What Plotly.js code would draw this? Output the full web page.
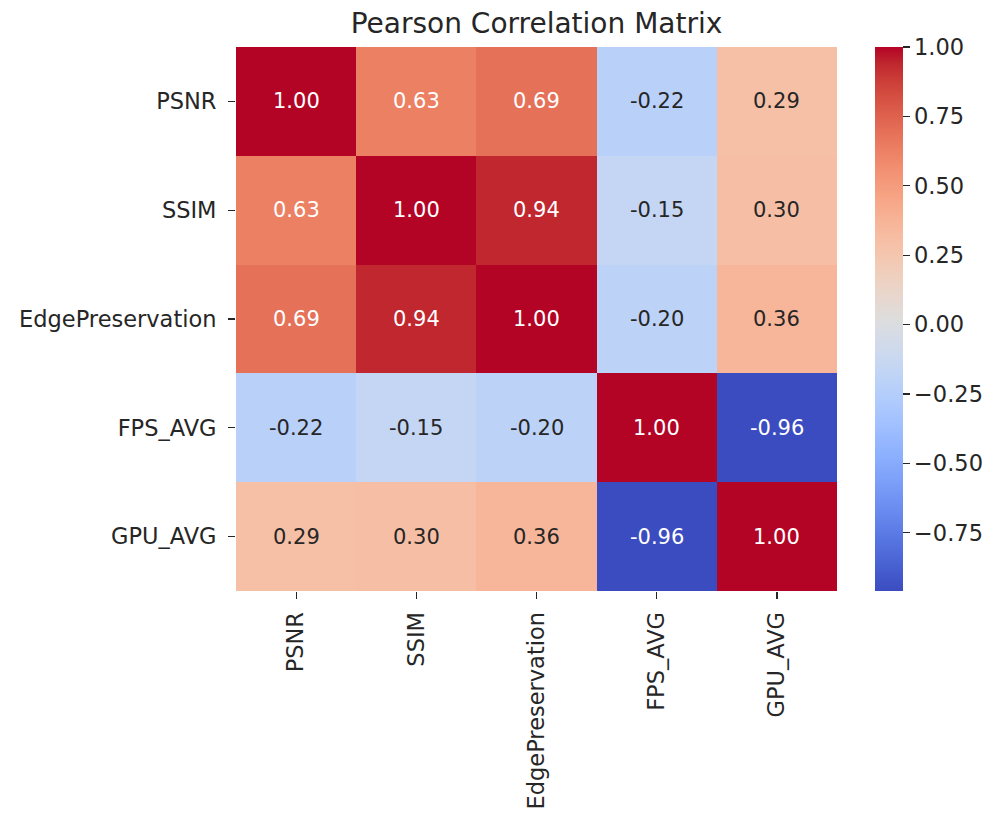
<!DOCTYPE html>
<html>
<head>
<meta charset="utf-8">
<script src="https://cdn.plot.ly/plotly-3.0.1.min.js"></script>
<style>html,body{margin:0;padding:0;background:#fff;}#chart{width:992px;height:821px;}</style>
</head>
<body>
<div id="chart"></div>
<script>
const labels = ["PSNR", "SSIM", "EdgePreservation", "FPS_AVG", "GPU_AVG"];
const rowPSNR = [1.00, 0.63, 0.69, -0.22, 0.29];
const rowSSIM = [0.63, 1.00, 0.94, -0.15, 0.30];
const rowEdge = [0.69, 0.94, 1.00, -0.20, 0.36];
const rowFPS  = [-0.22, -0.15, -0.20, 1.00, -0.96];
const rowGPU  = [0.29, 0.30, 0.36, -0.96, 1.00];
const zMatrix = [rowPSNR, rowSSIM, rowEdge, rowFPS, rowGPU];
const colorbarTicks = [1.00, 0.75, 0.50, 0.25, 0.00, -0.25, -0.50, -0.75];

// matplotlib "coolwarm" (Moreland) control points
const coolwarmRGB = [
 [59,76,192],[68,90,204],[77,104,215],[87,117,225],[98,130,234],[108,142,241],
 [119,154,247],[130,165,251],[141,176,254],[152,185,255],[163,194,255],[174,201,253],
 [184,208,249],[194,213,244],[204,217,238],[213,219,230],[221,221,221],[229,216,209],
 [236,211,197],[241,204,184],[245,196,172],[247,187,160],[247,177,148],[247,166,135],
 [244,154,123],[241,141,111],[236,127,99],[229,112,88],[222,96,77],[213,80,66],
 [203,62,56],[192,40,47],[180,4,38]
];
const n = coolwarmRGB.length;
const colorscale = coolwarmRGB.map((c, i) => [i / (n - 1), `rgb(${c[0]},${c[1]},${c[2]})`]);

const flat = zMatrix.flat();
const zmin = Math.min(...flat), zmax = Math.max(...flat);

function colorAt(v) {
  const t = Math.max(0, Math.min(1, (v - zmin) / (zmax - zmin))) * (n - 1);
  const i = Math.min(n - 2, Math.floor(t)), f = t - i;
  return coolwarmRGB[i].map((c, k) => (c + (coolwarmRGB[i + 1][k] - c) * f) / 255);
}
function luminance(rgb) {
  const lin = rgb.map(c => c <= 0.03928 ? c / 12.92 : Math.pow((c + 0.055) / 1.055, 2.4));
  return 0.2126 * lin[0] + 0.7152 * lin[1] + 0.0722 * lin[2];
}

const font = "DejaVu Sans";
const dark = "#262626";
const labelSize = 22.5;
const annotations = [];
zMatrix.forEach((row, r) => row.forEach((v, c) => {
  annotations.push({
    x: labels[c], y: labels[r], xref: "x", yref: "y",
    text: v.toFixed(2), showarrow: false,
    font: {family: font, size: 21, color: luminance(colorAt(v)) > 0.408 ? dark : "#ffffff"}
  });
}));

const trace = {
  type: "heatmap",
  x: labels, y: labels, z: zMatrix,
  zmin: zmin, zmax: zmax,
  colorscale: colorscale,
  xgap: 0, ygap: 0,
  hoverinfo: "skip",
  colorbar: {
    x: 1.0627, xanchor: "left", xref: "paper",
    y: 0.5, yanchor: "middle", len: 1, lenmode: "fraction",
    thickness: 28, thicknessmode: "pixels",
    outlinewidth: 0, xpad: 0, ypad: 0,
    tickmode: "array", tickvals: colorbarTicks,
    ticktext: colorbarTicks.map(v => (v < 0 ? "\u2212" : "") + Math.abs(v).toFixed(2)),
    ticks: "outside", ticklen: 7, tickwidth: 1.2, tickcolor: dark,
    tickfont: {family: font, size: labelSize, color: dark}
  }
};

const layout = {
  width: 992, height: 821,
  margin: {l: 236, r: 155, t: 47, b: 230, pad: 0, autoexpand: false},
  paper_bgcolor: "#ffffff", plot_bgcolor: "#ffffff",
  font: {family: font, color: dark},
  title: {
    text: "Pearson Correlation Matrix",
    font: {family: font, size: 28, color: dark},
    x: (236 + 837) / 2 / 992, xanchor: "center", xref: "container",
    y: 1 - 23 / 821, yanchor: "middle", yref: "container"
  },
  xaxis: {
    type: "category", tickangle: -90, ticks: "outside", ticklen: 7, tickwidth: 1.2,
    tickcolor: dark, tickfont: {family: font, size: labelSize, color: dark},
    showgrid: false, zeroline: false, showline: false, ticklabelstandoff: 4, automargin: false
  },
  yaxis: {
    type: "category", autorange: "reversed", ticks: "outside", ticklen: 7, tickwidth: 1.2,
    tickcolor: dark, tickfont: {family: font, size: labelSize, color: dark},
    showgrid: false, zeroline: false, showline: false, ticklabelstandoff: 7, automargin: false
  },
  annotations: annotations
};

Plotly.newPlot("chart", [trace], layout, {displayModeBar: false, staticPlot: true});
</script>
</body>
</html>
